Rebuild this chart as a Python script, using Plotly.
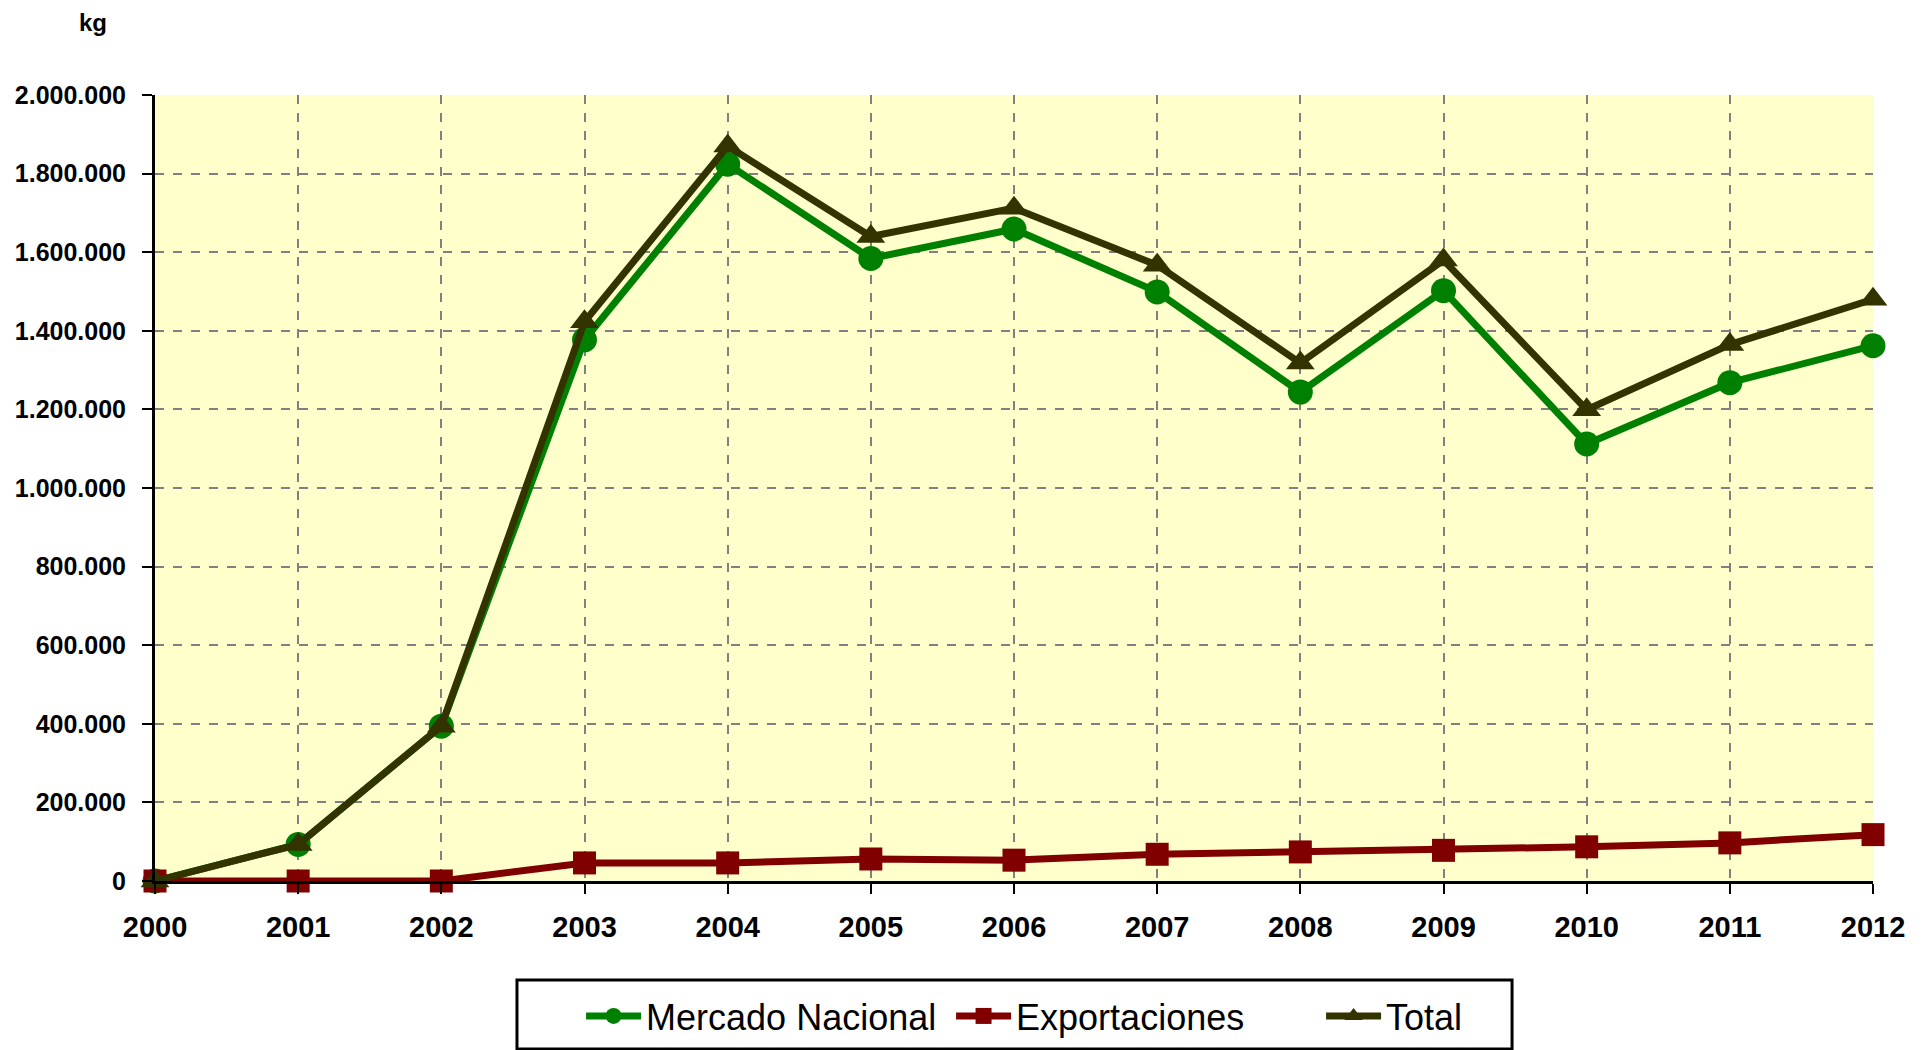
import plotly.graph_objects as go

years = [2000, 2001, 2002, 2003, 2004, 2005, 2006, 2007, 2008, 2009, 2010, 2011, 2012]
mercado_nacional = [0, 93000, 394000, 1377000, 1824000, 1584000, 1659000, 1499000, 1244000, 1502000, 1112000, 1268000, 1362000]
exportaciones = [0, 0, 0, 46000, 46000, 56000, 53000, 68000, 74000, 78000, 87000, 97000, 118000]
total = [0, 93000, 394000, 1423000, 1870000, 1640000, 1712000, 1567000, 1318000, 1580000, 1199000, 1365000, 1480000]

series_names = ["Mercado Nacional", "Exportaciones", "Total"]
y_ticks = [0, 200000, 400000, 600000, 800000, 1000000, 1200000, 1400000, 1600000, 1800000, 2000000]

FONT = "Liberation Sans, Arial, sans-serif"

fig = go.Figure()
fig.add_trace(go.Scatter(
    x=years, y=mercado_nacional, name=series_names[0], mode="lines+markers",
    line=dict(color="#008000", width=7),
    marker=dict(symbol="circle", size=25, color="#008000"),
    cliponaxis=False))
fig.add_trace(go.Scatter(
    x=years, y=exportaciones, name=series_names[1], mode="lines+markers",
    line=dict(color="#800000", width=7),
    marker=dict(symbol="square", size=23, color="#800000"),
    cliponaxis=False))
fig.add_trace(go.Scatter(
    x=years, y=total, name=series_names[2], mode="lines+markers",
    line=dict(color="#333300", width=7),
    marker=dict(symbol="triangle-up", size=25, color="#333300"),
    cliponaxis=False))

fig.update_layout(
    width=1930, height=1050,
    margin=dict(l=147, r=65, t=87, b=177, autoexpand=False),
    paper_bgcolor="white", plot_bgcolor="#FFFFCC",
    separators=",.",
    font=dict(family=FONT, color="black"),
    showlegend=True,
    legend=dict(
        orientation="h", x=0.248, xanchor="left", y=-0.1718, yanchor="middle",
        font=dict(size=36, family=FONT, color="black"),
        borderwidth=0, bgcolor="rgba(0,0,0,0)",
        itemwidth=55, entrywidth=300, traceorder="normal",
    ),
    shapes=[dict(
        type="rect", xref="paper", yref="paper",
        x0=0.2107, x1=0.7899, y0=-0.2137, y1=-0.126,
        line=dict(color="black", width=3), fillcolor="white", layer="below")],
    annotations=[dict(
        text="<b>kg</b>", xref="paper", yref="paper", x=-0.036, y=1.092,
        xanchor="center", yanchor="middle", showarrow=False,
        font=dict(size=24, family=FONT, color="black"))],
)

fig.update_xaxes(
    range=[2000, 2012], tickmode="array", tickvals=years, ticktext=[str(y) for y in years],
    showgrid=True, gridcolor="#808080", griddash="dash", gridwidth=1.5,
    showline=True, linecolor="black", linewidth=3,
    ticks="outside", ticklen=10, tickwidth=2, tickcolor="black",
    ticklabelstandoff=8,
    tickfont=dict(size=29, weight="bold", family=FONT, color="black"),
    zeroline=False,
)
fig.update_yaxes(
    range=[0, 2000000], tickmode="array", tickvals=y_ticks, tickformat=",d",
    showgrid=True, gridcolor="#808080", griddash="dash", gridwidth=1.5,
    showline=True, linecolor="black", linewidth=3,
    ticks="outside", ticklen=10, tickwidth=2, tickcolor="black",
    ticklabelstandoff=11,
    tickfont=dict(size=25, weight="bold", family=FONT, color="black"),
    zeroline=False,
)

fig.write_html("out.html")
